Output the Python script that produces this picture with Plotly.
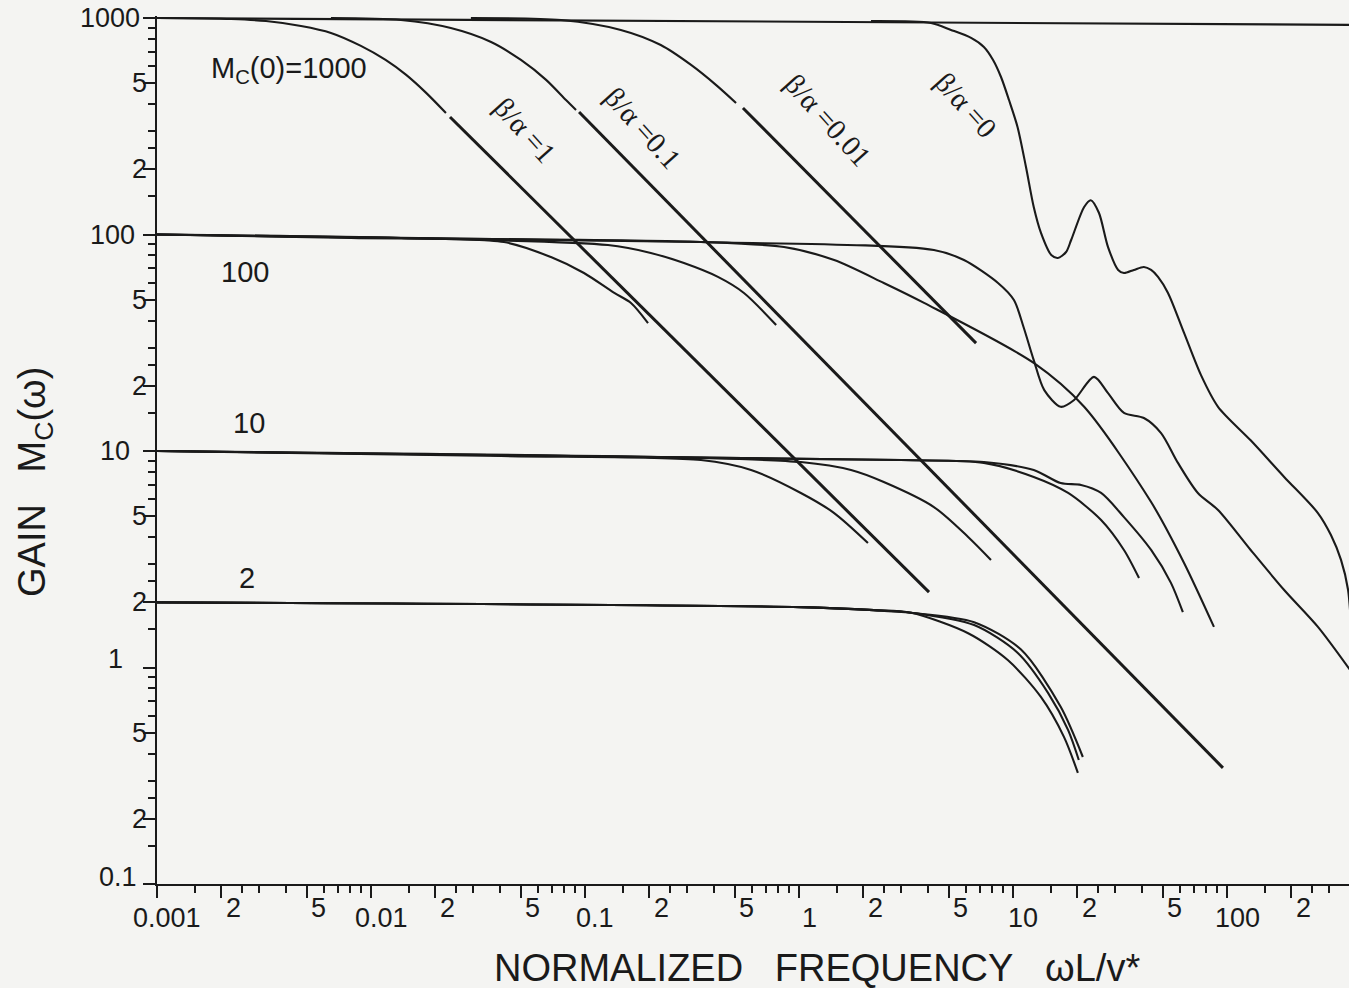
import numpy as np
import plotly.graph_objects as go

# Normalized frequency wL/v* and gain Mc(w) for the avalanche photodiode response.
# Curves are labelled by the low-frequency gain M0 and the ionization ratio k = beta/alpha.

# Reference plateau at M = 1000
f_top = [0.001, 376]
g_top = [1000, 929]

# ---- M0 = 1000 ----
f_1000_k1 = [0.001, 0.00222, 0.00323, 0.00471, 0.0065, 0.00897, 0.0117, 0.0146, 0.0181, 0.0224]
g_1000_k1 = [1000, 989, 968, 918, 853, 743, 640, 546, 451, 364]
f_1000_k1_gb = [0.0234, 4.05]
g_1000_k1_gb = [349, 2.23]

f_1000_k01 = [0.0065, 0.0138, 0.0236, 0.0364, 0.0502, 0.0658, 0.0815, 0.0908]
g_1000_k01 = [1000, 979, 899, 775, 640, 518, 418, 376]
f_1000_k01_gb = [0.0938, 95.7]
g_1000_k01_gb = [368, 0.344]

f_1000_k001 = [0.0293, 0.0773, 0.147, 0.226, 0.313, 0.409, 0.508]
g_1000_k001 = [1000, 979, 881, 750, 607, 491, 405]
f_1000_k001_gb = [0.547, 6.72]
g_1000_k001_gb = [384, 31.5]

f_1000_k0 = [2.17, 4.14, 5.13, 6.37, 7.31, 8.07, 8.79, 9.58, 10.5, 11.5, 12.5, 13.5,
             15.1, 16.2, 17.7, 18.7, 21.5, 23.1, 25.2, 27.8, 31.0, 33.0, 36.7, 40.9,
             44.2, 47.6, 53.0, 63.0, 75.6, 90.8, 129, 185, 266, 306, 341, 368, 388]
g_1000_k0 = [968, 948, 881, 809, 735, 640, 534, 418, 314, 205, 134, 102,
             80.4, 77.9, 83.0, 94.3, 134, 144, 126, 87.5, 68.6, 66.4, 68.6, 70.8,
             68.6, 63.7, 53.7, 35.1, 22.4, 16.0, 11.2, 7.59, 5.17, 4.09, 3.14, 2.28, 1.03]

# ---- M0 = 100 ----
f_100_k1 = [0.001, 0.00807, 0.0418, 0.0693, 0.0989, 0.137, 0.164, 0.197]
g_100_k1 = [100, 96.3, 92.3, 78.7, 66.4, 53.7, 48.3, 39.0]

f_100_k01 = [0.001, 0.0138, 0.128, 0.203, 0.290, 0.418, 0.553, 0.782]
g_100_k01 = [100, 96.3, 89.4, 82.2, 73.8, 63.7, 53.7, 38.2]

f_100_k001 = [0.001, 0.0138, 0.348, 0.851, 1.46, 2.49, 3.84, 12.5, 21.5, 44.2, 63.0, 86.9]
g_100_k001 = [100, 96.3, 92.3, 87.5, 76.2, 59.7, 48.3, 25.5, 16.0, 5.81, 3.04, 1.54]

f_100_k0 = [0.001, 0.348, 4.27, 5.90, 8.51, 10.1, 11.2, 12.5, 14.0, 16.7, 19.3, 23.9,
            27.8, 33.0, 40.9, 49.2, 59.0, 73.1, 90.8, 129, 185, 266, 376]
g_100_k0 = [100, 92.3, 84.8, 76.2, 59.7, 49.8, 37.4, 26.3, 19.1, 16.0, 17.2, 22.0,
            18.5, 15.0, 14.2, 12.1, 8.81, 6.40, 5.34, 3.49, 2.28, 1.54, 0.973]

# ---- M0 = 10 ----
f_10_k1 = [0.001, 0.0405, 0.348, 0.597, 1.02, 1.46, 2.10]
g_10_k1 = [10, 9.48, 9.08, 8.17, 6.40, 5.17, 3.76]

f_10_k01 = [0.001, 0.348, 1.02, 1.75, 2.49, 4.27, 6.17, 7.89]
g_10_k01 = [10, 9.29, 8.89, 8.17, 7.19, 5.51, 4.01, 3.14]

f_10_k001 = [0.001, 3.0, 7.31, 12.5, 18.1, 25.8, 33.0, 38.8]
g_10_k001 = [10, 9.08, 8.81, 7.59, 6.40, 4.80, 3.49, 2.59]

f_10_k0 = [0.001, 3.0, 7.31, 12.5, 16.7, 20.8, 25.8, 33.0, 44.2, 54.7, 62.2]
g_10_k0 = [10, 9.08, 8.89, 8.17, 7.11, 6.97, 6.40, 4.95, 3.49, 2.46, 1.80]

# ---- M0 = 2 ----
f_2_k1 = [0.001, 1.02, 2.24, 3.34, 6.17, 9.48, 13.5, 17.3, 20.1]
g_2_k1 = [2.0, 1.90, 1.84, 1.79, 1.44, 1.08, 0.731, 0.478, 0.326]

f_2_k01 = [0.001, 1.02, 2.24, 3.34, 6.58, 10.5, 14.6, 18.1, 20.3]
g_2_k01 = [2.0, 1.90, 1.84, 1.79, 1.57, 1.17, 0.762, 0.514, 0.374]

f_2_k001 = [0.001, 1.02, 2.24, 3.34, 6.58, 10.9, 16.7, 21.2]
g_2_k001 = [2.0, 1.90, 1.84, 1.79, 1.62, 1.21, 0.658, 0.386]

# Axis tick values and labels
x_major = [m * 10.0 ** e for e in range(-3, 3) for m in (1, 2, 5)] + [1000]
x_minor = [m * 10.0 ** e for e in range(-3, 3) for m in (1.5, 2.5, 3, 4, 6, 7, 8, 9)]
x_decade_vals = [0.001, 0.01, 0.1, 1, 10, 100]
x_decade_text = ["0.001", "0.01", "0.1", "1", "10", "100"]
x_sub_vals = [0.002, 0.005, 0.02, 0.05, 0.2, 0.5, 2, 5, 20, 50, 200]
x_sub_text = ["2", "5", "2", "5", "2", "5", "2", "5", "2", "5", "2"]

y_major = [m * 10.0 ** e for e in range(-1, 3) for m in (1, 2, 5)] + [1000]
y_minor = [m * 10.0 ** e for e in range(-1, 3) for m in (1.5, 2.5, 3, 4, 6, 7, 8, 9)]
y_decade_vals = [1000, 100, 10, 1, 0.1]
y_decade_text = ["1000", "100", "10", "1", "0.1"]
y_sub_vals = [500, 200, 50, 20, 5, 2, 0.5, 0.2]
y_sub_text = ["5", "2", "5", "2", "5", "2", "5", "2"]

INK = "#1a1a1a"
PAPER = "#f4f4f2"
SANS = "Liberation Sans, Arial, sans-serif"
SERIF = "Liberation Serif, Times New Roman, serif"

fig = go.Figure()


def add_curve(f, g, width=2.0, shape="spline"):
    fig.add_trace(go.Scatter(
        x=f, y=g, mode="lines",
        line=dict(color=INK, width=width, shape=shape, smoothing=0.8),
        hoverinfo="skip", showlegend=False,
    ))


add_curve(f_top, g_top, 2.2, "linear")

for f, g in [(f_1000_k1, g_1000_k1), (f_1000_k01, g_1000_k01),
             (f_1000_k001, g_1000_k001), (f_1000_k0, g_1000_k0),
             (f_100_k1, g_100_k1), (f_100_k01, g_100_k01),
             (f_100_k001, g_100_k001), (f_100_k0, g_100_k0),
             (f_10_k1, g_10_k1), (f_10_k01, g_10_k01),
             (f_10_k001, g_10_k001), (f_10_k0, g_10_k0),
             (f_2_k1, g_2_k1), (f_2_k01, g_2_k01), (f_2_k001, g_2_k001)]:
    add_curve(f, g, 2.1)

# Gain-bandwidth limited asymptotes
for f, g in [(f_1000_k1_gb, g_1000_k1_gb), (f_1000_k01_gb, g_1000_k01_gb),
             (f_1000_k001_gb, g_1000_k001_gb)]:
    add_curve(f, g, 3.0, "linear")

# Plot area geometry
L, R, T, B = 157, 0, 16, 104
W, H = 1349, 988
pw, ph = W - L - R, H - T - B


def px(xp, yp):
    """Screen position -> paper coordinates for annotations."""
    return (xp - L) / pw, (H - B - yp) / ph


TICK_FONT = dict(family=SANS, size=27, color=INK)
ann = []
# x tick labels
for v, t in zip(x_decade_vals, x_decade_text):
    ann.append(dict(x=np.log10(v), xref="x", y=0, yref="paper", text=t,
                    showarrow=False, xanchor="center", yanchor="middle",
                    xshift=10, yshift=-34, font=TICK_FONT))
for v, t in zip(x_sub_vals, x_sub_text):
    ann.append(dict(x=np.log10(v), xref="x", y=0, yref="paper", text=t,
                    showarrow=False, xanchor="center", yanchor="middle",
                    xshift=12, yshift=-24, font=TICK_FONT))
# y tick labels
y_dec_shift = {"1000": (-15, 0), "100": (-20, 0), "10": (-25, 0), "1": (-32, 9), "0.1": (-18, 7)}
for v, t in zip(y_decade_vals, y_decade_text):
    dx, dy = y_dec_shift[t]
    ann.append(dict(x=0, xref="paper", y=np.log10(v), yref="y", text=t,
                    showarrow=False, xanchor="right", yanchor="middle",
                    xshift=dx, yshift=dy, font=TICK_FONT))
for v, t in zip(y_sub_vals, y_sub_text):
    ann.append(dict(x=0, xref="paper", y=np.log10(v), yref="y", text=t,
                    showarrow=False, xanchor="right", yanchor="middle",
                    xshift=-8, font=TICK_FONT))

# Curve-family labels
for text, (xp, yp) in [("M<sub>C</sub>(0)=1000", (289, 70)), ("100", (245, 272)),
                       ("10", (249, 423)), ("2", (247, 578))]:
    xx, yy = px(xp, yp)
    ann.append(dict(x=xx, y=yy, xref="paper", yref="paper", text=text, showarrow=False,
                    xanchor="center", yanchor="middle",
                    font=dict(family=SANS, size=29, color=INK)))

for text, (xp, yp) in [("β/α =1", (525, 130)), ("β/α =0.1", (643, 128)),
                       ("β/α =0.01", (828, 120)), ("β/α =0", (966, 105))]:
    xx, yy = px(xp, yp)
    ann.append(dict(x=xx, y=yy, xref="paper", yref="paper", text=text, showarrow=False,
                    xanchor="center", yanchor="middle", textangle=48,
                    font=dict(family=SERIF, size=29, color=INK)))

# Axis titles
xx, yy = px(817, 968)
ann.append(dict(x=xx, y=yy, xref="paper", yref="paper",
                text="NORMALIZED\u00a0\u00a0\u00a0FREQUENCY\u00a0\u00a0\u00a0ωL/v*",
                showarrow=False, xanchor="center", yanchor="middle",
                font=dict(family=SANS, size=38, color=INK)))
xx, yy = px(35, 482)
ann.append(dict(x=xx, y=yy, xref="paper", yref="paper",
                text="GAIN\u00a0\u00a0\u00a0M<sub>C</sub>(ω)",
                showarrow=False, xanchor="center", yanchor="middle", textangle=-90,
                font=dict(family=SANS, size=38, color=INK)))

axis_common = dict(
    type="log", showgrid=False, zeroline=False, showline=True,
    linecolor=INK, linewidth=2, ticks="outside", tickcolor=INK, tickwidth=1.6,
    ticklen=12, showticklabels=False, tickmode="array",
)

fig.update_layout(
    width=W, height=H,
    margin=dict(l=L, r=R, t=T, b=B, pad=0),
    paper_bgcolor=PAPER, plot_bgcolor=PAPER,
    showlegend=False,
    xaxis=dict(range=[-3, -3 + pw / 214.0], tickvals=x_major,
               minor=dict(tickmode="array", tickvals=x_minor, ticks="outside",
                          ticklen=7, tickcolor=INK, tickwidth=1.6, showgrid=False),
               **axis_common),
    yaxis=dict(range=[-1, -1 + ph / 216.5], tickvals=y_major,
               minor=dict(tickmode="array", tickvals=y_minor, ticks="outside",
                          ticklen=7, tickcolor=INK, tickwidth=1.6, showgrid=False),
               **axis_common),
    annotations=ann,
)

fig.write_html("out.html")
